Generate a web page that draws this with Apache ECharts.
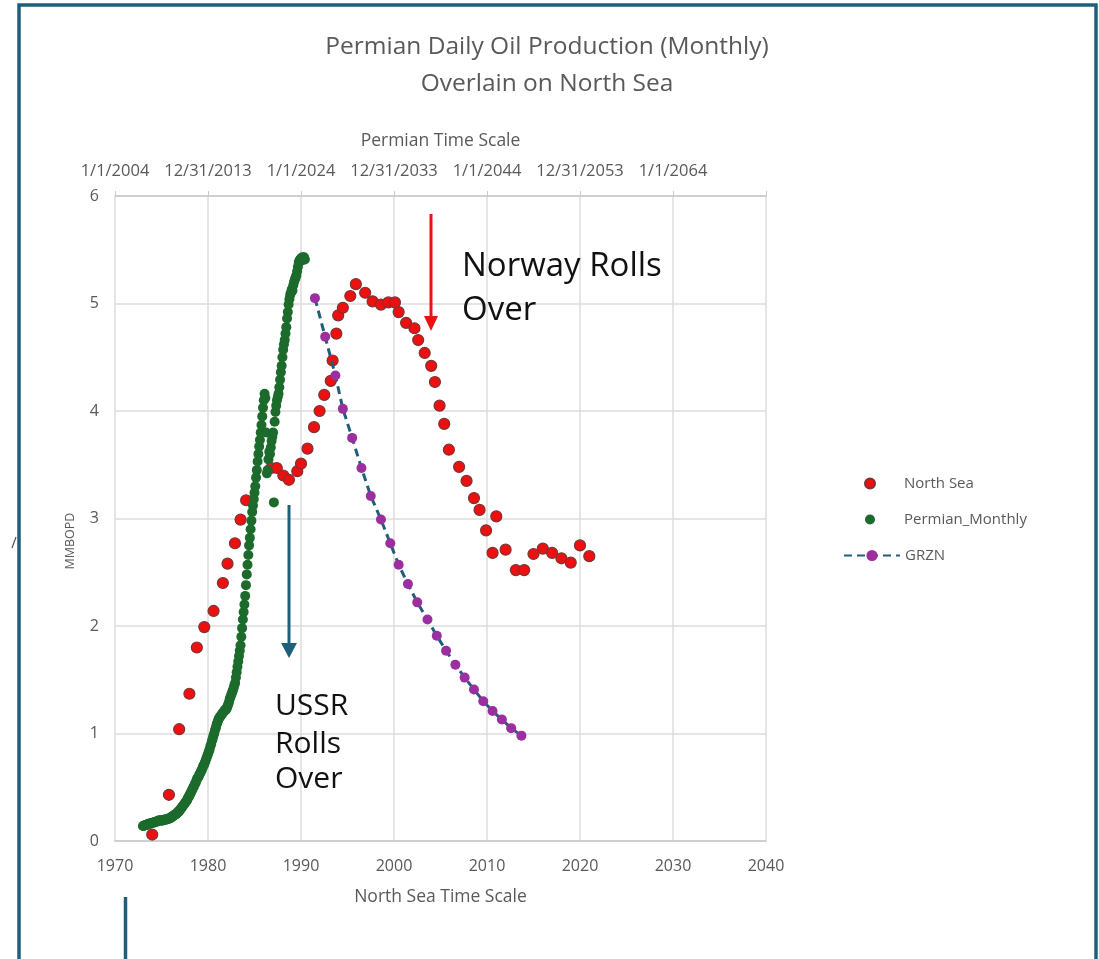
<!DOCTYPE html>
<html>
<head>
<meta charset="utf-8">
<script src="https://cdn.jsdelivr.net/npm/echarts@6/dist/echarts.min.js"></script>
<style>
html,body{margin:0;padding:0;background:#fff;}
#chart{width:1099px;height:959px;}
</style>
</head>
<body>
<div id="chart"></div>
<script>
// ---- Data ----
// North Sea (bottom axis, North Sea time)
const northSeaYears = [1974.0,1975.8,1976.9,1978.0,1978.8,1979.6,1980.6,1981.6,1982.1,1982.9,1983.5,1984.1,1986.8,1987.4,1988.1,1988.7,1989.6,1990.0,1990.7,1991.4,1992.0,1992.5,1993.2,1993.4,1993.8,1994.0,1994.5,1995.3,1995.9,1996.9,1997.7,1998.6,1999.4,2000.1,2000.5,2001.3,2002.2,2002.6,2003.3,2004.0,2004.4,2004.9,2005.4,2005.9,2007.0,2007.8,2008.6,2009.2,2009.9,2010.6,2011.0,2012.0,2013.1,2014.0,2015.0,2016.0,2017.0,2018.0,2019.0,2020.0,2021.0];
const northSeaValues = [0.06,0.43,1.04,1.37,1.80,1.99,2.14,2.40,2.58,2.77,2.99,3.17,3.47,3.47,3.40,3.36,3.44,3.51,3.65,3.85,4.00,4.15,4.28,4.47,4.72,4.89,4.96,5.07,5.18,5.10,5.02,4.99,5.01,5.01,4.92,4.82,4.77,4.66,4.54,4.42,4.27,4.05,3.88,3.64,3.48,3.35,3.19,3.08,2.89,2.68,3.02,2.71,2.52,2.52,2.67,2.72,2.68,2.63,2.59,2.75,2.65];

// Permian monthly (top axis, Permian time), first month January 2007
const permianStartYear = 2007;
const permianMonthly = [
 0.14,0.14,0.145,0.15,0.15,0.15,0.155,0.16,0.16,0.16,0.165,0.165,
 0.17,0.17,0.17,0.175,0.18,0.18,0.18,0.185,0.19,0.19,0.19,0.19,
 0.19,0.19,0.19,0.195,0.20,0.20,0.20,0.20,0.205,0.21,0.21,0.21,
 0.22,0.22,0.23,0.23,0.24,0.24,0.25,0.25,0.26,0.27,0.27,0.28,
 0.29,0.30,0.31,0.32,0.33,0.34,0.35,0.36,0.37,0.38,0.40,0.41,
 0.42,0.44,0.45,0.47,0.48,0.50,0.51,0.53,0.54,0.56,0.58,0.59,
 0.60,0.62,0.63,0.65,0.66,0.68,0.70,0.71,0.73,0.75,0.77,0.79,
 0.81,0.83,0.85,0.88,0.90,0.93,0.95,0.98,1.00,1.03,1.05,1.08,
 1.10,1.12,1.14,1.15,1.16,1.17,1.18,1.19,1.20,1.21,1.22,1.22,
 1.23,1.25,1.27,1.29,1.32,1.34,1.36,1.38,1.40,1.42,1.45,1.47,
 1.52,1.57,1.62,1.67,1.72,1.77,1.82,1.90,1.98,2.06,2.13,2.20,
 2.28,2.38,2.48,2.57,2.66,2.75,2.82,2.90,2.98,3.06,3.12,3.18,
 3.24,3.30,3.38,3.45,3.53,3.60,3.67,3.73,3.80,3.87,3.95,4.03,
 4.10,4.16,4.12,3.80,3.42,3.45,3.55,3.62,3.60,3.66,3.72,3.76,
 3.80,3.15,3.90,3.99,4.05,4.10,4.13,4.16,4.22,4.29,4.36,4.42,
 4.50,4.57,4.62,4.66,4.72,4.78,4.86,4.92,4.99,5.04,5.08,5.10,
 5.13,5.12,5.17,5.20,5.22,5.24,5.26,5.30,5.34,5.38,5.40,5.41,
 5.42,5.40,5.43,5.42,5.43,5.41
];

// GRZN (top axis, Permian time)
const grznYears = [2025.5,2026.6,2027.7,2028.5,2029.5,2030.5,2031.5,2032.6,2033.6,2034.5,2035.5,2036.5,2037.6,2038.6,2039.6,2040.6,2041.6,2042.6,2043.6,2044.6,2045.6,2046.6,2047.7];
const grznValues = [5.05,4.69,4.33,4.02,3.75,3.47,3.21,2.99,2.77,2.57,2.39,2.22,2.06,1.91,1.77,1.64,1.52,1.41,1.30,1.21,1.13,1.05,0.98];

// Top axis tick labels
const topTickValues = [2004,2014,2024,2034,2044,2054,2064,2074];
const topTickLabels = ['1/1/2004','12/31/2013','1/1/2024','12/31/2033','1/1/2044','12/31/2053','1/1/2064',''];

// ---- Build ----
const northSeaData = northSeaYears.map((y,i)=>[y,northSeaValues[i]]);
const permianData = permianMonthly.map((v,i)=>[permianStartYear + i/12, v]);
const grznData = grznYears.map((y,i)=>[y,grznValues[i]]);

const FONT = 'Open Sans';
const GREY = '#595959';
const TEAL = '#1f5f7a';

const chart = echarts.init(document.getElementById('chart'), null, {renderer:'canvas'});
const option = {
  animation:false,
  backgroundColor:'#ffffff',
  textStyle:{fontFamily:FONT},
  title:{
    text:'Permian Daily Oil Production (Monthly)\nOverlain on North Sea',
    left:542, top:24, textAlign:'center',
    textStyle:{fontFamily:FONT,fontSize:24.5,fontWeight:'normal',color:GREY,lineHeight:37}
  },
  grid:{left:115,right:333,top:196,bottom:118},
  xAxis:[
    {
      type:'value', position:'bottom', min:1970, max:2040, interval:10,
      name:'North Sea Time Scale', nameLocation:'middle', nameGap:47,
      nameTextStyle:{color:GREY,fontSize:17.5,fontFamily:FONT},
      axisLine:{show:true,lineStyle:{color:'#c8c8c8',width:1.5}},
      axisTick:{show:false},
      axisLabel:{color:GREY,fontSize:16,margin:17,fontFamily:FONT,formatter:function(v){return String(v);}},
      splitLine:{show:true,lineStyle:{color:'#dcdcdc',width:1.5}}
    },
    {
      type:'value', position:'top', min:2004, max:2074, interval:10,
      name:'Permian Time Scale', nameLocation:'middle', nameGap:46,
      nameTextStyle:{color:GREY,fontSize:17.5,fontFamily:FONT},
      axisLine:{show:true,lineStyle:{color:'#c8c8c8',width:1.5}},
      axisTick:{show:true,length:5,lineStyle:{color:'#c8c8c8'}},
      axisLabel:{color:GREY,fontSize:16.5,margin:16,fontFamily:FONT,hideOverlap:false,
        formatter:function(v){const i=topTickValues.indexOf(Math.round(v));return i>=0?topTickLabels[i]:'';}},
      splitLine:{show:false}
    }
  ],
  yAxis:{
    type:'value', min:0, max:6, interval:1,
    axisLine:{show:false}, axisTick:{show:false},
    axisLabel:{color:GREY,fontSize:16,margin:16,fontFamily:FONT},
    splitLine:{show:true,lineStyle:{color:'#dcdcdc',width:1.5}}
  },
  legend:[
    {
      orient:'vertical', left:859, top:471, itemGap:21, itemWidth:10, itemHeight:10,
      data:['North Sea','Permian_Monthly'],
      textStyle:{color:GREY,fontSize:15,fontFamily:FONT,padding:[0,0,0,24]}
    },
    {
      orient:'vertical', left:838, top:543, itemWidth:56, itemHeight:14,
      data:['GRZN'],
      textStyle:{color:GREY,fontSize:15,fontFamily:FONT,padding:[0,0,0,0]}
    }
  ],
  series:[
    {
      name:'North Sea', type:'scatter', xAxisIndex:0, yAxisIndex:0,
      data:northSeaData, symbol:'circle', symbolSize:11,
      itemStyle:{color:'#ee1010',borderColor:'#7a3434',borderWidth:1.2,opacity:1}
    },
    {
      name:'Permian_Monthly', type:'scatter', xAxisIndex:1, yAxisIndex:0,
      data:permianData, symbol:'circle', symbolSize:10,
      itemStyle:{color:'#1c6b2c',opacity:1}
    },
    {
      name:'GRZN', type:'line', xAxisIndex:1, yAxisIndex:0,
      data:grznData, symbol:'circle', symbolSize:10, showSymbol:true,
      itemStyle:{color:'#9b2fa0'},
      lineStyle:{color:TEAL,width:3,type:[8,5]}
    }
  ],
  graphic:[
    {type:'rect',shape:{x:19,y:5,width:1077,height:1000},style:{fill:'none',stroke:TEAL,lineWidth:3.5},silent:true,z:100},
    {type:'line',shape:{x1:125.5,y1:897,x2:125.5,y2:959},style:{stroke:TEAL,lineWidth:3.5},z:100},
    {type:'line',shape:{x1:12,y1:548,x2:16,y2:537},style:{stroke:'#555',lineWidth:1.2},z:100},
    // Y axis title
    {type:'text',x:70,y:541,rotation:Math.PI/2,style:{text:'MMBOPD',fontFamily:FONT,fontSize:12.5,fill:GREY,align:'center',verticalAlign:'middle'},z:100},
    // Norway annotation
    {type:'line',shape:{x1:431,y1:214,x2:431,y2:318},style:{stroke:'#ee1111',lineWidth:3},z:100},
    {type:'polygon',shape:{points:[[424,316],[438,316],[431,331]]},style:{fill:'#ee1111'},z:100},
    {type:'text',left:462,top:250,style:{text:'Norway Rolls',fontFamily:FONT,fontSize:33,fill:'#111'},z:100},
    {type:'text',left:462,top:294,style:{text:'Over',fontFamily:FONT,fontSize:33,fill:'#111'},z:100},
    // USSR annotation
    {type:'line',shape:{x1:289,y1:505,x2:289,y2:646},style:{stroke:TEAL,lineWidth:3},z:100},
    {type:'polygon',shape:{points:[[281,643],[297,643],[289,658]]},style:{fill:TEAL},z:100},
    {type:'text',left:275,top:691,style:{text:'USSR',fontFamily:FONT,fontSize:30,fill:'#111'},z:100},
    {type:'text',left:275,top:729,style:{text:'Rolls',fontFamily:FONT,fontSize:30,fill:'#111'},z:100},
    {type:'text',left:275,top:764,style:{text:'Over',fontFamily:FONT,fontSize:30,fill:'#111'},z:100}
  ]
};
chart.setOption(option);
</script>
</body>
</html>
